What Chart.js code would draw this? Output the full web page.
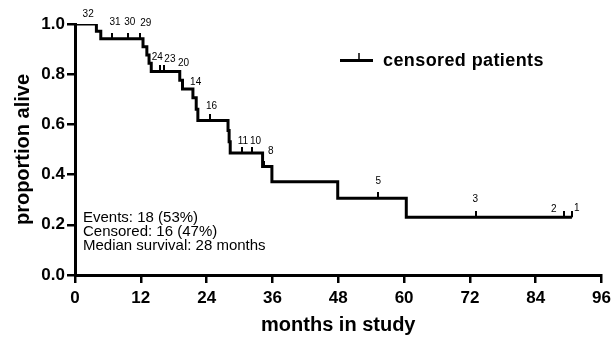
<!DOCTYPE html>
<html>
<head>
<meta charset="utf-8">
<script src="https://cdn.jsdelivr.net/npm/chart.js@4.4.1/dist/chart.umd.min.js"></script>
<style>
  body { margin: 0; background: #fff; }
  #km { display: block; }
</style>
</head>
<body>
<canvas id="km" width="616" height="337"></canvas>
<script>
const FONT = "'Liberation Sans', Arial, Helvetica, sans-serif";

// Kaplan-Meier steps (months, proportion alive)
const stepMonths = [0, 3.9, 4.7, 12.4, 13.1, 13.5, 13.9, 19.1, 19.6, 21.5, 22.1, 22.4,
  27.9, 28.1, 28.3, 34.2, 35.9, 47.9, 60.4, 90.6];
const stepSurvival = [1.0, 0.971, 0.941, 0.909, 0.876, 0.844, 0.811, 0.776, 0.741, 0.706, 0.66, 0.616,
  0.576, 0.531, 0.486, 0.432, 0.372, 0.306, 0.230, 0.230];

// censor tick marks (months)
const censorMonths = [1.8, 6.7, 9.6, 11.8, 15.5, 16.2, 24.7, 30.4, 32.3, 34.5, 55.2, 73.2, 89.2, 90.6];

// numbers written above the curve (month, level, text)
const noteMonths = [2.4, 7.3, 10.0, 12.9, 15.0, 17.3, 19.8, 22.0, 24.9, 30.6, 32.9, 35.7, 55.3, 73.0, 87.3, 91.5];
const noteLevels = [1.038, 1.007, 1.007, 1.002, 0.869, 0.861, 0.842, 0.768, 0.672, 0.532, 0.532, 0.492, 0.375, 0.303, 0.262, 0.266];
const noteTexts = ["32", "31", "30", "29", "24", "23", "20", "14", "16", "11", "10", "8", "5", "3", "2", "1"];

const statLines = ["Events: 18 (53%)", "Censored: 16 (47%)", "Median survival: 28 months"];

const xTicks = [0, 12, 24, 36, 48, 60, 72, 84, 96];
const yTicks = [0.0, 0.2, 0.4, 0.6, 0.8, 1.0];

function survivalAt(t) {
  let s = stepSurvival[0];
  for (let i = 0; i < stepMonths.length; i++) {
    if (stepMonths[i] <= t) s = stepSurvival[i];
  }
  return s;
}

// small upward tick used as point style for censored patients
const tickImg = document.createElement("canvas");
tickImg.width = 2;
tickImg.height = 12;
const tctx = tickImg.getContext("2d");
tctx.fillStyle = "#000";
tctx.fillRect(0, 0, 2, 6);

const extras = {
  id: "extras",
  afterDraw(chart) {
    const c = chart.ctx;
    const xs = chart.scales.x;
    const ys = chart.scales.y;
    c.save();
    c.fillStyle = "#000";

    // numbers at risk above censor marks
    c.font = "10px " + FONT;
    c.textAlign = "center";
    c.textBaseline = "middle";
    noteTexts.forEach((txt, i) => {
      c.fillText(txt, xs.getPixelForValue(noteMonths[i]), ys.getPixelForValue(noteLevels[i]));
    });

    // legend
    c.strokeStyle = "#000";
    c.lineWidth = 3;
    c.beginPath();
    c.moveTo(340, 60.5);
    c.lineTo(373, 60.5);
    c.stroke();
    c.lineWidth = 1.5;
    c.beginPath();
    c.moveTo(359, 53);
    c.lineTo(359, 60.5);
    c.stroke();
    c.font = "bold 18px " + FONT;
    c.letterSpacing = "0.4px";
    c.textAlign = "left";
    c.fillText("censored patients", 383, 61);
    c.letterSpacing = "0px";

    // summary text
    c.font = "15px " + FONT;
    statLines.forEach((line, i) => {
      c.fillText(line, 83, 218 + i * 14);
    });
    c.restore();
  }
};

new Chart(document.getElementById("km"), {
  type: "line",
  data: {
    datasets: [
      {
        data: stepMonths.map((m, i) => ({ x: m, y: stepSurvival[i] })),
        stepped: "before",
        borderColor: "#000",
        borderWidth: 3,
        pointRadius: 0,
        fill: false,
      },
      {
        type: "scatter",
        data: censorMonths.map((m) => ({ x: m, y: survivalAt(m) })),
        pointStyle: tickImg,
        pointRadius: 6,
        showLine: false,
      },
    ],
  },
  options: {
    responsive: false,
    devicePixelRatio: 1,
    animation: false,
    layout: { padding: { left: 0, right: 13, top: 24, bottom: 0 } },
    plugins: { legend: { display: false }, tooltip: { enabled: false } },
    scales: {
      x: {
        type: "linear",
        min: 0,
        max: 96,
        afterBuildTicks: (scale) => { scale.ticks = xTicks.map((v) => ({ value: v })); },
        afterFit: (scale) => { scale.height = 62; },
        grid: { drawOnChartArea: false, drawTicks: true, tickLength: 8, color: "#000", lineWidth: 2.5 },
        border: { display: true, color: "#000", width: 3 },
        ticks: { color: "#000", padding: 5, font: { family: FONT, size: 17, weight: "bold" } },
        title: {
          display: true,
          text: "months in study",
          color: "#000",
          padding: 0,
          font: { family: FONT, size: 20, weight: "bold" },
        },
      },
      y: {
        type: "linear",
        min: 0,
        max: 1,
        afterBuildTicks: (scale) => { scale.ticks = yTicks.map((v) => ({ value: v })); },
        afterFit: (scale) => { scale.width = 75; },
        grid: { drawOnChartArea: false, drawTicks: true, tickLength: 8, color: "#000", lineWidth: 2.5 },
        border: { display: true, color: "#000", width: 3 },
        ticks: {
          color: "#000",
          padding: 2,
          font: { family: FONT, size: 17, weight: "bold" },
          callback: (v) => v.toFixed(1),
        },
        title: {
          display: true,
          text: "proportion alive",
          color: "#000",
          padding: { top: 11, bottom: 0 },
          font: { family: FONT, size: 20, weight: "bold" },
        },
      },
    },
  },
  plugins: [extras],
});
</script>
</body>
</html>
